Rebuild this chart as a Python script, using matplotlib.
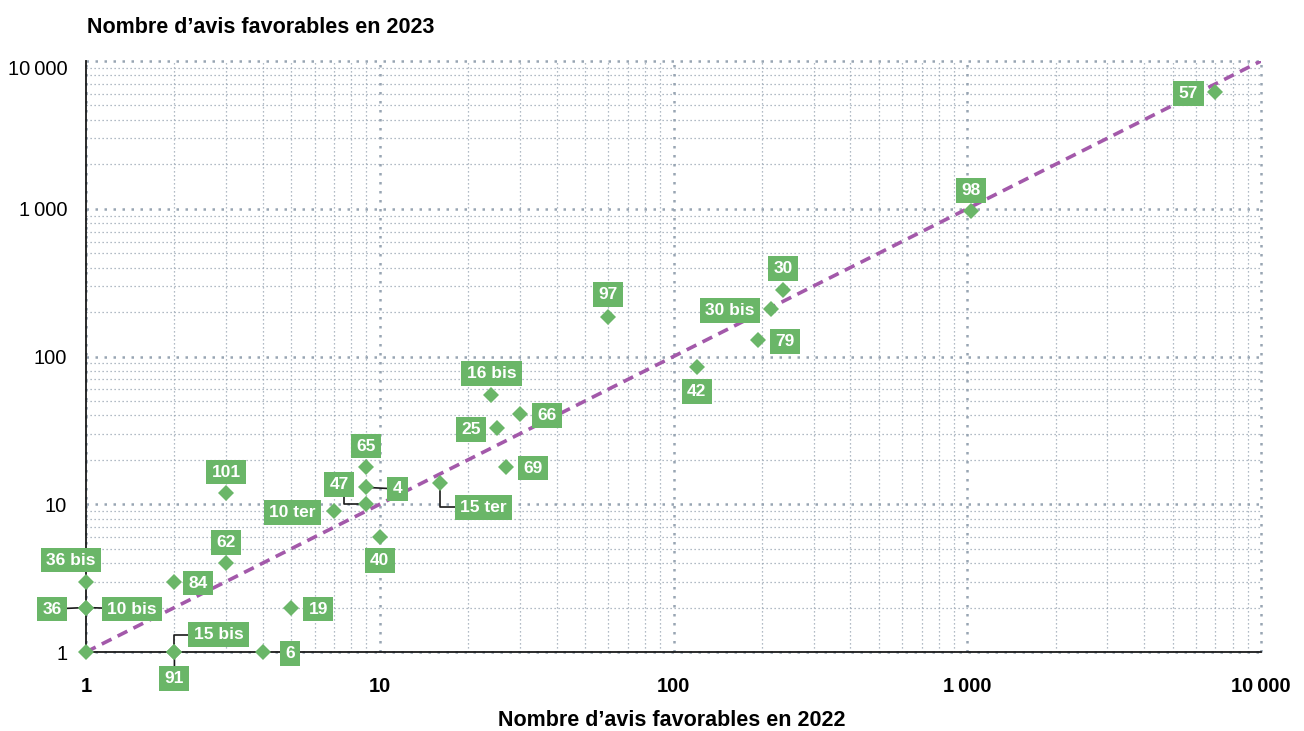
import matplotlib
matplotlib.use("Agg")
import matplotlib.pyplot as plt
from matplotlib.path import Path
from matplotlib.transforms import ScaledTranslation
from matplotlib.ticker import FixedLocator, LogLocator, NullFormatter, FixedFormatter

# ---- data -------------------------------------------------------------
labels = ["", "36 bis", "36", "10 bis", "84", "62", "19", "15 bis", "91", "6",
          "101", "10 ter", "47", "4", "65", "40", "15 ter", "16 bis", "25",
          "66", "69", "97", "42", "30", "30 bis", "79", "98", "57"]
avis_2022 = [1, 1, 1, 1, 2, 3, 5, 2, 2, 4,
             3, 7, 9, 9, 9, 10, 16, 24, 25,
             30, 27, 60, 120, 236, 215, 194, 1026, 7000]
avis_2023 = [1, 3, 2, 2, 3, 4, 2, 1, 1, 1,
             12, 9, 10, 13, 18, 6, 14, 55, 33,
             41, 18, 186, 85, 282, 210, 130, 970, 6200]

x_ticks = [1, 10, 100, 1000, 10000]
x_tick_labels = ["1", "10", "100", "1\u2009000", "10\u2009000"]
y_ticks = [1, 10, 100, 1000, 10000]
y_tick_labels = ["1", "10", "100", "1\u2009000", "10\u2009000"]

# ---- label placement (pixel offsets from the marker) and leader style ----
label_offsets = {
    "36 bis": (-15, 23), "36": (-34, 0), "10 bis": (46, 0), "84": (24, 0),
    "62": (0, 22), "19": (27, 0), "15 bis": (44, 19), "91": (0, -25),
    "6": (27, 0), "101": (0, 22), "10 ter": (-42, 0), "47": (-27, 21),
    "4": (31, 0), "65": (0, 22), "40": (0, -22), "15 ter": (44, -23),
    "16 bis": (0, 23), "25": (-26, 0), "66": (27, 0), "69": (27, 0),
    "97": (0, 24), "42": (0, -23), "30": (0, 23), "30 bis": (-41, 0),
    "79": (27, 0), "98": (0, 22), "57": (-27, 0),
}
leaders = {
    "36": dict(connectionstyle="arc3,rad=0"),
    "10 bis": dict(connectionstyle="arc3,rad=0"),
    "91": dict(connectionstyle="arc3,rad=0"),
    "4": dict(connectionstyle="arc3,rad=0"),
    "15 bis": dict(connectionstyle="angle,angleA=0,angleB=90,rad=0"),
    "15 ter": dict(connectionstyle="angle,angleA=0,angleB=90,rad=0"),
    "47": dict(connectionstyle="angle,angleA=90,angleB=0,rad=0", relpos=(0.75, 0.5)),
}

GREEN = "#6ab668"
PURPLE = "#a359aa"
GRID = "#98a5b3"

plt.rcParams["font.family"] = ["Liberation Sans", "DejaVu Sans"]

fig = plt.figure(figsize=(13.04, 7.31), dpi=100)
ax = fig.add_axes([86 / 1304, 1 - 652 / 731, (1261 - 86) / 1304, (652 - 61) / 731])
ax.set_xscale("log")
ax.set_yscale("log")
ax.set_xlim(1, 10000)
ax.set_ylim(1, 10000)

# grid
ax.xaxis.set_major_locator(FixedLocator(x_ticks))
ax.yaxis.set_major_locator(FixedLocator(y_ticks))
ax.xaxis.set_major_formatter(FixedFormatter(x_tick_labels))
ax.yaxis.set_major_formatter(FixedFormatter(y_tick_labels))
ax.xaxis.set_minor_locator(LogLocator(base=10, subs=range(2, 10)))
ax.yaxis.set_minor_locator(LogLocator(base=10, subs=range(2, 10)))
ax.xaxis.set_minor_formatter(NullFormatter())
ax.yaxis.set_minor_formatter(NullFormatter())
ax.grid(which="major", color=GRID, linestyle=(0, (1, 2.6)), linewidth=1.8)
ax.grid(which="minor", color=GRID, linestyle=(0, (1, 2.2)), linewidth=0.9)
ax.set_axisbelow(True)
for gl in ax.get_xgridlines() + ax.get_ygridlines():
    gl.set_clip_on(False)

for side in ("top", "right"):
    ax.spines[side].set_visible(False)
for side in ("left", "bottom"):
    ax.spines[side].set_linewidth(1.3)
    ax.spines[side].set_color("#1a1a1a")
    ax.spines[side].set_zorder(2.5)

ax.tick_params(which="both", length=0)
ax.tick_params(axis="x", pad=18, labelsize=14.5)
ax.tick_params(axis="y", pad=13.5, labelsize=14.5)
for t in ax.get_xticklabels():
    t.set_fontweight("bold")
# the top y label sits a little below its gridline
top_label = ax.yaxis.get_major_ticks()[-1].label1
top_label.set_transform(top_label.get_transform()
                        + ScaledTranslation(0, -5 / 72, fig.dpi_scale_trans))

# y = x reference line
ref, = ax.plot([1, 10000], [1, 10000], color=PURPLE, linewidth=2.6, zorder=3)
ref.set_dashes([3.0, 1.9])

# markers
ax.plot(avis_2022, avis_2023, linestyle="none", marker="D", markersize=8.3,
        markerfacecolor=GREEN, markeredgewidth=0, zorder=6, clip_on=False)


def label_box(x0, y0, width, height, mutation_size):
    padx = 0.31 * mutation_size
    pady = 0.28 * mutation_size
    x0, y0 = x0 - padx, y0 - pady
    x1, y1 = x0 + width + 2 * padx, y0 + height + 2 * pady
    return Path([(x0, y0), (x1, y0), (x1, y1), (x0, y1), (x0, y0)], closed=True)


for lab, xv, yv in zip(labels, avis_2022, avis_2023):
    if not lab:
        continue
    dx, dy = label_offsets[lab]
    kw = {}
    if lab in leaders:
        ap = dict(arrowstyle="-", color="#1a1a1a", linewidth=1.2, shrinkA=0, shrinkB=0)
        ap.update(leaders[lab])
        kw["arrowprops"] = ap
    ax.annotate(lab, xy=(xv, yv), xytext=(dx, dy), textcoords="offset pixels",
                ha="center", va="center_baseline", fontsize=12.5, fontweight="bold",
                color="white", zorder=5, annotation_clip=False,
                bbox=dict(boxstyle=label_box, facecolor=GREEN, edgecolor="none"),
                **kw)

fig.text(87 / 1304, 1 - 33 / 731, "Nombre d\u2019avis favorables en 2023",
         ha="left", va="baseline", fontsize=15.5, fontweight="bold")
fig.text(672 / 1304, 1 - 726 / 731, "Nombre d\u2019avis favorables en 2022",
         ha="center", va="baseline", fontsize=15.5, fontweight="bold")

fig.savefig("out.png", dpi=100)
